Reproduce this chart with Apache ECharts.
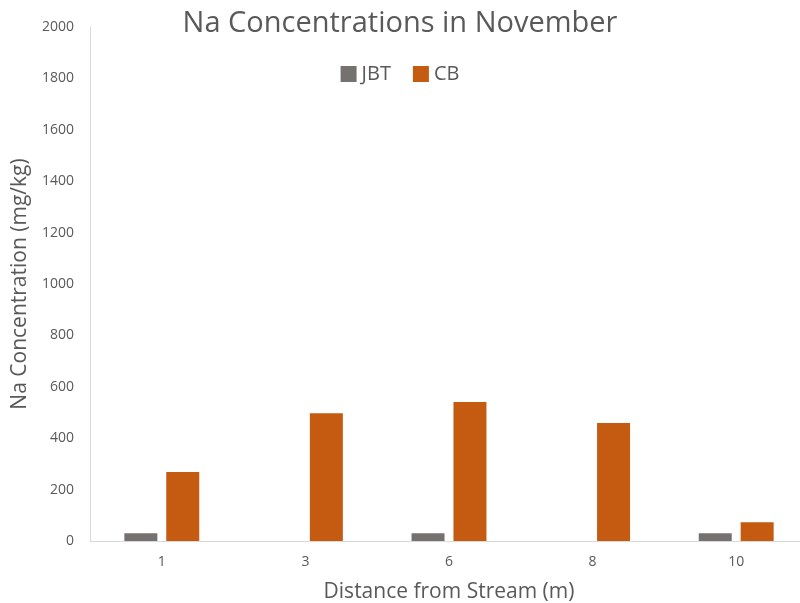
<!DOCTYPE html>
<html>
<head>
<meta charset="utf-8">
<script src="https://cdn.jsdelivr.net/npm/echarts@6/dist/echarts.min.js"></script>
<style>
  html, body { margin: 0; padding: 0; background: #fff; }
  #chart { width: 800px; height: 603px; }
</style>
</head>
<body>
<div id="chart"></div>
<script>
const categories = ['1', '3', '6', '8', '10'];
const jbtValues = [30, 0, 30, 0, 30];
const cbValues = [268, 497, 541, 459, 73];
const yTicks = { min: 0, max: 2000, interval: 200 };

const textColor = '#595959';
const font = 'Open Sans';

echarts.init(document.getElementById('chart')).setOption({
  backgroundColor: '#fff',
  textStyle: { fontFamily: font },
  title: {
    text: 'Na Concentrations in November',
    left: 'center',
    top: 4,
    textStyle: { fontSize: 29, fontWeight: 'normal', color: textColor, fontFamily: font }
  },
  legend: {
    data: ['JBT', 'CB'],
    top: 59,
    left: 'center',
    itemWidth: 16,
    itemHeight: 16,
    itemGap: 22,
    icon: 'rect',
    textStyle: { fontSize: 20, color: textColor, fontFamily: font }
  },
  grid: { left: 90, right: -8, top: 27, bottom: 62, outerBoundsMode: 'none' },
  xAxis: {
    type: 'category',
    data: categories,
    name: 'Distance from Stream (m)',
    nameLocation: 'middle',
    nameGap: 41,
    nameTextStyle: { fontSize: 21, color: textColor, fontFamily: font },
    axisLine: { lineStyle: { color: '#d9d9d9', width: 1 } },
    axisTick: { show: false },
    axisLabel: { color: textColor, fontSize: 14, margin: 14 }
  },
  yAxis: {
    type: 'value',
    min: yTicks.min,
    max: yTicks.max,
    interval: yTicks.interval,
    name: 'Na Concentration (mg/kg)',
    nameLocation: 'middle',
    nameGap: 59,
    nameTextStyle: { fontSize: 21, color: textColor, fontFamily: font },
    axisLine: { show: true, lineStyle: { color: '#d9d9d9', width: 1 } },
    axisTick: { show: false },
    splitLine: { show: false },
    axisLabel: { color: textColor, fontSize: 14, margin: 16, formatter: (v) => String(v) }
  },
  series: [
    { name: 'JBT', type: 'bar', data: jbtValues, barWidth: 33, barGap: '27%', itemStyle: { color: '#767171' } },
    { name: 'CB', type: 'bar', data: cbValues, barWidth: 33, itemStyle: { color: '#c55a11' } }
  ]
});
</script>
</body>
</html>
